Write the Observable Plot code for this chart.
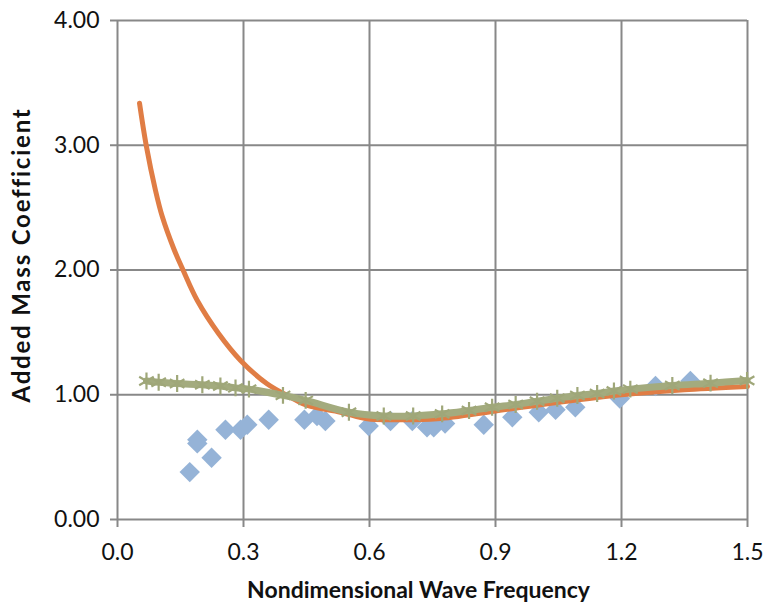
<!DOCTYPE html>
<html>
<head>
<meta charset="utf-8">
<script src="https://cdn.jsdelivr.net/npm/d3@7"></script>
<script src="https://cdn.jsdelivr.net/npm/@observablehq/plot@0.6"></script>
<style>
  html, body { margin: 0; padding: 0; background: #fff; }
  #chart svg { display: block; }
</style>
</head>
<body>
<div id="chart"></div>
<script>
// Experimental points (blue diamonds)
const expX = [0.172, 0.190, 0.190, 0.224, 0.257, 0.293, 0.309, 0.360, 0.445, 0.475, 0.495, 0.598, 0.650, 0.702, 0.737, 0.753, 0.780, 0.872, 0.940, 1.003, 1.043, 1.090, 1.196, 1.281, 1.364];
const expY = [0.38, 0.64, 0.61, 0.495, 0.72, 0.72, 0.76, 0.80, 0.80, 0.83, 0.79, 0.75, 0.79, 0.79, 0.74, 0.74, 0.77, 0.76, 0.82, 0.86, 0.88, 0.90, 0.97, 1.07, 1.11];

// Orange curve
const orX = [0.0524, 0.0683, 0.0905, 0.1064, 0.134, 0.156, 0.190, 0.241, 0.293, 0.356, 0.412, 0.452, 0.531, 0.595, 0.650, 0.761, 0.900, 1.050, 1.200, 1.350, 1.500];
const orY = [3.337, 3.00, 2.637, 2.43, 2.17, 2.00, 1.755, 1.489, 1.275, 1.088, 0.98, 0.914, 0.86, 0.807, 0.80, 0.807, 0.87, 0.94, 1.00, 1.04, 1.066];

// Olive curve with asterisk markers
const grX = [0.069, 0.098, 0.142, 0.202, 0.245, 0.281, 0.313, 0.394, 0.448, 0.551, 0.634, 0.704, 0.773, 0.837, 0.892, 0.948, 0.999, 1.047, 1.095, 1.142, 1.182, 1.221, 1.321, 1.412, 1.499];
const grY = [1.11, 1.10, 1.09, 1.08, 1.07, 1.055, 1.045, 0.995, 0.955, 0.86, 0.83, 0.83, 0.847, 0.874, 0.90, 0.922, 0.948, 0.972, 0.994, 1.01, 1.03, 1.045, 1.074, 1.093, 1.114];

const xTicks = [0, 0.3, 0.6, 0.9, 1.2, 1.5];
const yTicks = [0, 1, 2, 3, 4];
const xLabel = "Nondimensional Wave Frequency";
const yLabel = "Added Mass Coefficient";

const exp = expX.map((x, i) => ({x, y: expY[i]}));
const orange = orX.map((x, i) => ({x, y: orY[i]}));
const green = grX.map((x, i) => ({x, y: grY[i]}));

const gridColor = "#888888";
const font = "Lato, 'Open Sans', sans-serif";

const chart = Plot.plot({
  width: 767,
  height: 605,
  marginLeft: 117,
  marginRight: 20,
  marginTop: 20,
  marginBottom: 86,
  style: {fontFamily: font, background: "#fff", overflow: "visible"},
  x: {domain: [0, 1.5], ticks: xTicks},
  y: {domain: [0, 4], ticks: yTicks},
  marks: [
    Plot.gridX(xTicks, {stroke: gridColor, strokeOpacity: 1, strokeWidth: 2}),
    Plot.gridY(yTicks, {stroke: gridColor, strokeOpacity: 1, strokeWidth: 2}),
    Plot.axisX(xTicks, {
      tickSize: 8, tickPadding: 16, fontSize: 23, stroke: gridColor, strokeWidth: 2,
      fill: "#111", tickFormat: d => d.toFixed(1), label: null
    }),
    Plot.axisY(yTicks, {
      tickSize: 7, tickPadding: 11, fontSize: 23, stroke: gridColor, strokeWidth: 2,
      fill: "#111", tickFormat: d => d.toFixed(2), label: null
    }),
    Plot.dot(exp, {x: "x", y: "y", symbol: "diamond2", r: 9.2, fill: "#95B3D7", stroke: "none"}),
    Plot.line(orange, {x: "x", y: "y", stroke: "#E07D45", strokeWidth: 5, curve: "catmull-rom"}),
    Plot.line(green, {x: "x", y: "y", stroke: "#A3AB7E", strokeWidth: 7, curve: "catmull-rom"}),
    Plot.dot(green, {x: "x", y: "y", symbol: "asterisk", r: 8, stroke: "#9FA779", strokeWidth: 2.2}),
    Plot.text([xLabel], {frameAnchor: "bottom", dx: -14, dy: 78, fontSize: 23, fontWeight: "bold", fill: "#111", text: d => d}),
    Plot.text([yLabel], {frameAnchor: "left", textAnchor: "middle", dx: -95, dy: -15, rotate: -90, fontSize: 24, fontWeight: "bold", fill: "#111", text: d => d, className: "ylab"})
  ]
});
d3.select(chart).selectAll(".ylab text").style("letter-spacing", "1.8px");
document.getElementById("chart").appendChild(chart);
</script>
</body>
</html>
